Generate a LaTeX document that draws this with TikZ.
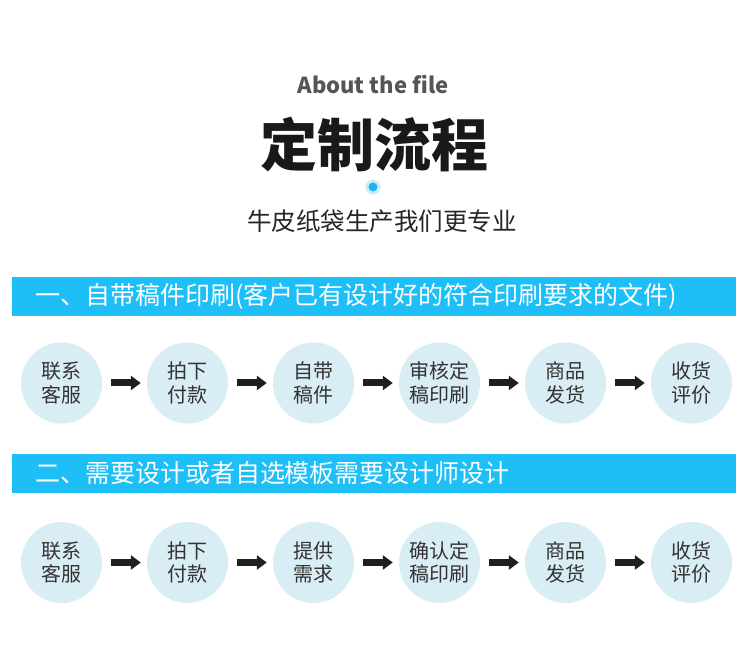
\documentclass[tikz,border=0pt]{standalone}
\usepackage{fontspec}
\newfontfamily\cjk{Noto Sans CJK SC}
\usetikzlibrary{arrows.meta}
\definecolor{barblue}{HTML}{1EBEF6}
\definecolor{stepfill}{HTML}{D9EDF4}
\definecolor{stepgray}{HTML}{333333}
\definecolor{aboutgray}{HTML}{555555}
\definecolor{dotblue}{HTML}{1EB2F0}

\begin{document}
\begin{tikzpicture}[x=1pt, y=-1pt,
  stepnode/.style={circle, fill=stepfill, minimum size=81pt, inner sep=0pt, align=center,
    text=stepgray, font=\cjk\fontsize{20}{23.5}\selectfont},
  barnode/.style={fill=barblue, minimum width=724pt, minimum height=39pt, inner xsep=23pt,
    text width=678pt, align=left, text=white, font=\cjk\fontsize{25}{28}\selectfont},
  flowarrow/.style={draw=black!88, line width=7pt, shorten <=9pt, shorten >=6pt,
    -{Triangle[length=10pt, width=14pt]}}]
  \useasboundingbox (0,0) rectangle (750,660);
  \fill[white] (0,0) rectangle (750,660);

  % heading
  \node[text=aboutgray, font=\cjk\bfseries\fontsize{22}{26}\selectfont] (about) at (373,85) {About the file};
  \node[text=black!90, font=\cjk\bfseries\fontsize{57}{62}\selectfont] (title) at (374,145) {定制流程};
  \fill[dotblue!25] (373,187) circle (7.5);
  \node[circle, fill=dotblue, minimum size=9pt, inner sep=0pt] (dot) at (373,187) {};
  \node[text=black!85, font=\cjk\fontsize{24.5}{28}\selectfont] (sub) at (382,221) {牛皮纸袋生产我们更专业};

  % first flow
  \node[barnode] (bar1) at (374,296.5) {一、自带稿件印刷(客户已有设计好的符合印刷要求的文件)};
  \node[stepnode] (a1) at (61.5,383) {联系\\客服};
  \node[stepnode] (a2) at (187.5,383) {拍下\\付款};
  \node[stepnode] (a3) at (313.5,383) {自带\\稿件};
  \node[stepnode] (a4) at (439.5,383) {审核定\\稿印刷};
  \node[stepnode] (a5) at (565.5,383) {商品\\发货};
  \node[stepnode] (a6) at (691.5,383) {收货\\评价};
  \draw[flowarrow] (a1) -- (a2);
  \draw[flowarrow] (a2) -- (a3);
  \draw[flowarrow] (a3) -- (a4);
  \draw[flowarrow] (a4) -- (a5);
  \draw[flowarrow] (a5) -- (a6);

  % second flow
  \node[barnode] (bar2) at (374,473.5) {二、需要设计或者自选模板需要设计师设计};
  \node[stepnode] (b1) at (61.5,562.5) {联系\\客服};
  \node[stepnode] (b2) at (187.5,562.5) {拍下\\付款};
  \node[stepnode] (b3) at (313.5,562.5) {提供\\需求};
  \node[stepnode] (b4) at (439.5,562.5) {确认定\\稿印刷};
  \node[stepnode] (b5) at (565.5,562.5) {商品\\发货};
  \node[stepnode] (b6) at (691.5,562.5) {收货\\评价};
  \draw[flowarrow] (b1) -- (b2);
  \draw[flowarrow] (b2) -- (b3);
  \draw[flowarrow] (b3) -- (b4);
  \draw[flowarrow] (b4) -- (b5);
  \draw[flowarrow] (b5) -- (b6);
\end{tikzpicture}
\end{document}
